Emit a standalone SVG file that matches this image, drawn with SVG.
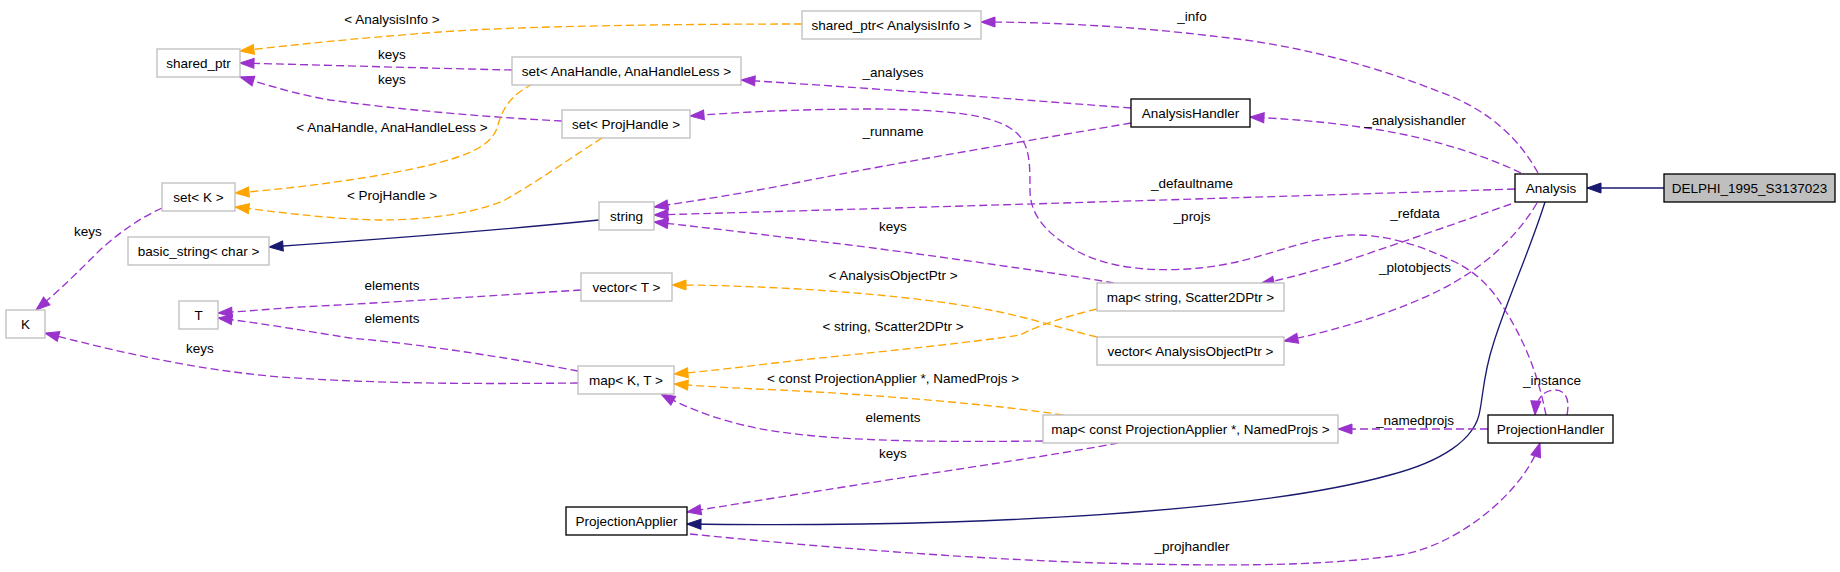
<svg xmlns="http://www.w3.org/2000/svg" width="1840" height="572" viewBox="0 0 1840 572">
<style>
  text { font-family: "Liberation Sans", Arial, Helvetica, sans-serif; font-size: 13.5px; fill: #000; }
  .n text { text-anchor: middle; }
  .lbl { text-anchor: middle; }
  .ext { fill: #fff; stroke: #bfbfbf; stroke-width: 1.33; }
  .doc { fill: #fff; stroke: #000; stroke-width: 1.33; }
  .cur { fill: #bfbfbf; stroke: #000; stroke-width: 1.33; }
  .u { fill: none; stroke: #9a32cd; stroke-width: 1.33; stroke-dasharray: 8,4; marker-end: url(#ap); }
  .t { fill: none; stroke: #ffa500; stroke-width: 1.33; stroke-dasharray: 8,4; marker-end: url(#ao); }
  .i { fill: none; stroke: #191970; stroke-width: 1.33; marker-end: url(#an); }
</style>
<defs>
  <marker id="ap" markerUnits="userSpaceOnUse" markerWidth="16" markerHeight="12" viewBox="0 0 16 12" refX="15" refY="6" orient="auto">
    <path d="M1,1 L15,6 L1,11 z" fill="#9a32cd" stroke="#9a32cd" stroke-width="1"/>
  </marker>
  <marker id="ao" markerUnits="userSpaceOnUse" markerWidth="16" markerHeight="12" viewBox="0 0 16 12" refX="15" refY="6" orient="auto">
    <path d="M1,1 L15,6 L1,11 z" fill="#ffa500" stroke="#ffa500" stroke-width="1"/>
  </marker>
  <marker id="an" markerUnits="userSpaceOnUse" markerWidth="16" markerHeight="12" viewBox="0 0 16 12" refX="15" refY="6" orient="auto">
    <path d="M1,1 L15,6 L1,11 z" fill="#191970" stroke="#191970" stroke-width="1"/>
  </marker>
</defs>
<rect width="1840" height="572" fill="#fff"/>

<g id="edges">
  <path class="i" d="M1664,188 L1587,188"/>
  <path class="i" d="M1545,202 C1530,250 1505,305 1493,345 C1484,372 1483,395 1480,410 C1476,440 1440,462 1390,475 C1300,500 1150,515 950,522 C850,525 760,525 687,524"/>
  <path class="i" d="M599,220 C520,228 400,238 269,247"/>

  <path class="u" d="M1538,173 C1520,140 1490,110 1440,92 C1380,68 1300,45 1220,37 C1150,28 1060,22 981,22"/>
  <text class="lbl" x="1192" y="21">_info</text>
  <path class="u" d="M1521,173 C1490,158 1440,140 1380,130 C1330,122 1290,119 1250,117"/>
  <text class="lbl" x="1415" y="125">_analysishandler</text>
  <path class="u" d="M1515,189 C1300,196 900,208 654,215"/>
  <text class="lbl" x="1192" y="188">_defaultname</text>
  <path class="u" d="M1511,204 C1460,222 1400,243 1340,263 C1310,272 1290,278 1260,284"/>
  <text class="lbl" x="1415" y="218">_refdata</text>
  <path class="u" d="M1537,203 C1515,240 1480,270 1440,290 C1400,310 1340,330 1284,341"/>
  <text class="lbl" x="1415" y="272">_plotobjects</text>
  <path class="u" d="M1131,108 C1050,102 900,90 741,80"/>
  <text class="lbl" x="893" y="77">_analyses</text>
  <path class="u" d="M1131,123 C1050,137 900,162 800,182 C740,194 700,200 654,207"/>
  <text class="lbl" x="893" y="136">_runname</text>
  <path class="u" d="M1546,415 C1540,385 1530,350 1505,310 C1490,285 1475,272 1455,262 C1420,245 1385,234 1350,235 C1300,238 1260,262 1200,268 C1160,272 1110,270 1075,250 C1040,230 1030,210 1030,190 C1030,160 1030,140 1010,128 C990,115 950,110 877,109 C800,109 740,112 690,116"/>
  <text class="lbl" x="1192" y="221">_projs</text>
  <path class="u" d="M1567,415 C1570,400 1566,390 1555,390 C1544,390 1536,398 1535,415"/>
  <text class="lbl" x="1552" y="385">_instance</text>
  <path class="u" d="M1488,429 L1338,429"/>
  <text class="lbl" x="1415" y="425">_namedprojs</text>
  <path class="u" d="M690,534 C800,545 950,558 1100,563 C1250,567 1330,565 1400,555 C1460,545 1525,490 1540,443"/>
  <text class="lbl" x="1192" y="551">_projhandler</text>
  <path class="u" d="M1118,443 C1050,456 950,470 850,486 C780,497 730,505 687,512"/>
  <text class="lbl" x="893" y="458">keys</text>
  <path class="u" d="M1043,441 C950,442 850,442 780,432 C730,425 690,410 661,394"/>
  <text class="lbl" x="893" y="422">elements</text>
  <path class="t" d="M1063,415 C1000,405 880,395 780,390 C730,388 700,386 674,384"/>
  <text class="lbl" x="893" y="383">&lt; const ProjectionApplier *, NamedProjs &gt;</text>
  <path class="t" d="M1097,309 C1060,318 1040,325 1020,335 C990,340 900,350 800,360 C750,366 710,371 674,374"/>
  <text class="lbl" x="893" y="331">&lt; string, Scatter2DPtr &gt;</text>
  <path class="t" d="M1097,337 C1060,328 1030,318 995,311 C940,300 860,292 780,288 C740,286 705,285 672,285"/>
  <text class="lbl" x="893" y="280">&lt; AnalysisObjectPtr &gt;</text>
  <path class="u" d="M1114,283 C1050,272 950,258 850,245 C780,237 720,229 654,222"/>
  <text class="lbl" x="893" y="231">keys</text>
  <path class="t" d="M802,24 C680,24 520,26 440,32 C360,38 300,44 240,51"/>
  <text class="lbl" x="392" y="24">&lt; AnalysisInfo &gt;</text>
  <path class="u" d="M512,70 C420,68 320,65 240,63"/>
  <text class="lbl" x="392" y="59">keys</text>
  <path class="u" d="M562,121 C500,118 400,110 330,100 C300,95 270,86 240,77"/>
  <text class="lbl" x="392" y="84">keys</text>
  <path class="t" d="M533,84 C510,95 502,110 498,125 C493,145 470,155 430,165 C380,177 300,188 235,193"/>
  <text class="lbl" x="392" y="132">&lt; AnaHandle, AnaHandleLess &gt;</text>
  <path class="t" d="M602,138 C575,155 540,180 505,200 C470,215 420,220 380,220 C330,219 285,213 235,207"/>
  <text class="lbl" x="392" y="200">&lt; ProjHandle &gt;</text>
  <path class="u" d="M581,290 C500,295 400,302 300,307 C270,309 250,311 218,313"/>
  <text class="lbl" x="392" y="290">elements</text>
  <path class="u" d="M578,371 C520,360 430,345 350,338 C300,330 260,323 218,318"/>
  <text class="lbl" x="392" y="323">elements</text>
  <path class="u" d="M578,383 C480,384 380,384 280,377 C200,370 130,355 45,333"/>
  <text class="lbl" x="200" y="353">keys</text>
  <path class="u" d="M162,208 C140,218 120,232 100,250 C80,270 60,290 36,310"/>
  <text class="lbl" x="88" y="236">keys</text>
</g>

<g id="nodes" class="n">
  <g id="node-delphi"><rect class="cur" x="1664" y="174" width="171" height="28"/><text x="1749.5" y="192.5">DELPHI_1995_S3137023</text></g>
  <g id="node-analysis"><rect class="doc" x="1515" y="174" width="72" height="28"/><text x="1551" y="192.5">Analysis</text></g>
  <g id="node-shared_ptr_ai"><rect class="ext" x="802" y="11" width="179" height="28"/><text x="891.5" y="29.5">shared_ptr&lt; AnalysisInfo &gt;</text></g>
  <g id="node-analysishandler"><rect class="doc" x="1131" y="99" width="119" height="28"/><text x="1190.5" y="117.5">AnalysisHandler</text></g>
  <g id="node-set_anahandle"><rect class="ext" x="512" y="57" width="229" height="28"/><text x="626.5" y="75.5">set&lt; AnaHandle, AnaHandleLess &gt;</text></g>
  <g id="node-set_projhandle"><rect class="ext" x="562" y="110" width="128" height="28"/><text x="626" y="128.5">set&lt; ProjHandle &gt;</text></g>
  <g id="node-shared_ptr"><rect class="ext" x="157" y="49" width="83" height="28"/><text x="198.5" y="67.5">shared_ptr</text></g>
  <g id="node-set_k"><rect class="ext" x="162" y="183" width="73" height="28"/><text x="198.5" y="201.5">set&lt; K &gt;</text></g>
  <g id="node-string"><rect class="ext" x="599" y="202" width="55" height="28"/><text x="626.5" y="220.5">string</text></g>
  <g id="node-basic_string"><rect class="ext" x="128" y="237" width="141" height="28"/><text x="198.5" y="255.5">basic_string&lt; char &gt;</text></g>
  <g id="node-k"><rect class="ext" x="6" y="310" width="39" height="28"/><text x="25.5" y="328.5">K</text></g>
  <g id="node-t"><rect class="ext" x="179" y="301" width="39" height="28"/><text x="198.5" y="319.5">T</text></g>
  <g id="node-vector_t"><rect class="ext" x="581" y="273" width="91" height="28"/><text x="626.5" y="291.5">vector&lt; T &gt;</text></g>
  <g id="node-map_kt"><rect class="ext" x="578" y="366" width="96" height="28"/><text x="626" y="384.5">map&lt; K, T &gt;</text></g>
  <g id="node-map_string"><rect class="ext" x="1097" y="283" width="187" height="28"/><text x="1190.5" y="301.5">map&lt; string, Scatter2DPtr &gt;</text></g>
  <g id="node-vector_aop"><rect class="ext" x="1097" y="337" width="187" height="28"/><text x="1190.5" y="355.5">vector&lt; AnalysisObjectPtr &gt;</text></g>
  <g id="node-map_const"><rect class="ext" x="1043" y="415" width="295" height="28"/><text x="1190.5" y="433.5">map&lt; const ProjectionApplier *, NamedProjs &gt;</text></g>
  <g id="node-projectionapplier"><rect class="doc" x="566" y="507" width="121" height="28"/><text x="626.5" y="525.5">ProjectionApplier</text></g>
  <g id="node-projectionhandler"><rect class="doc" x="1488" y="415" width="125" height="28"/><text x="1550.5" y="433.5">ProjectionHandler</text></g>
</g>
</svg>
